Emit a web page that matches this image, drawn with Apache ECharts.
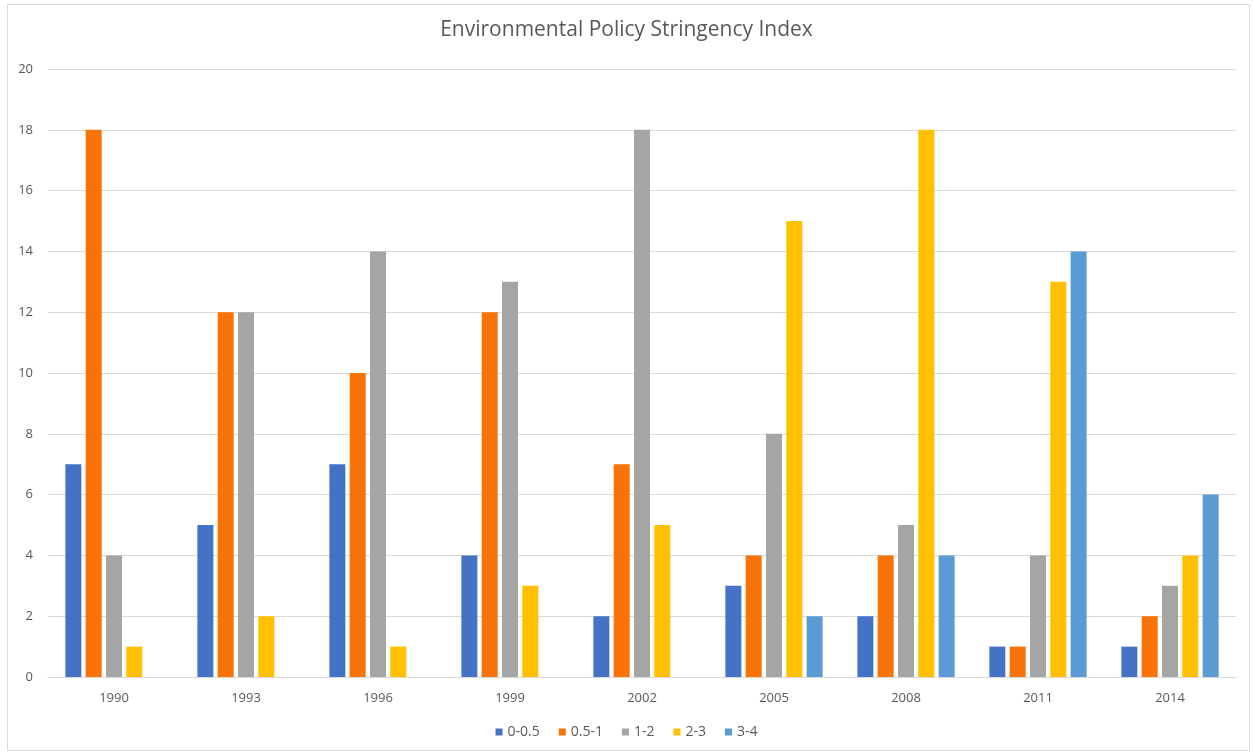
<!DOCTYPE html>
<html>
<head>
<meta charset="utf-8">
<script src="https://cdn.jsdelivr.net/npm/echarts@6/dist/echarts.min.js"></script>
<style>
  html, body { margin: 0; padding: 0; background: #fff; }
  #chart { width: 1253px; height: 754px; }
</style>
</head>
<body>
<div id="chart"></div>
<script>
// Number of countries per stringency band, by year
const years = ['1990', '1993', '1996', '1999', '2002', '2005', '2008', '2011', '2014'];
const band_0_05 = [7, 5, 7, 4, 2, 3, 2, 1, 1];
const band_05_1 = [18, 12, 10, 12, 7, 4, 4, 1, 2];
const band_1_2  = [4, 12, 14, 13, 18, 8, 5, 4, 3];
const band_2_3  = [1, 2, 1, 3, 5, 15, 18, 13, 4];
const band_3_4  = [0, 0, 0, 0, 0, 2, 4, 14, 6];
const yTicks = [0, 2, 4, 6, 8, 10, 12, 14, 16, 18, 20];

const seriesDefs = [
  { name: '0-0.5', data: band_0_05, color: '#4472C4' },
  { name: '0.5-1', data: band_05_1, color: '#FA7306' },
  { name: '1-2',   data: band_1_2,  color: '#A5A5A5' },
  { name: '2-3',   data: band_2_3,  color: '#FFC000' },
  { name: '3-4',   data: band_3_4,  color: '#5B9BD5' }
];

const font = 'Open Sans, Noto Sans, sans-serif';
const chart = echarts.init(document.getElementById('chart'), null, { renderer: 'canvas' });

chart.setOption({
  animation: false,
  backgroundColor: '#fff',
  title: {
    text: 'Environmental Policy Stringency Index',
    left: 'center',
    top: 15,
    textStyle: { fontFamily: font, fontSize: 21, fontWeight: 'normal', color: '#595959' }
  },
  graphic: [{
    type: 'rect',
    shape: { x: 7.5, y: 4.5, width: 1242, height: 746 },
    style: { fill: 'none', stroke: '#D9D9D9', lineWidth: 1 },
    silent: true
  }],
  legend: {
    bottom: 10,
    left: 'center',
    itemWidth: 7,
    itemHeight: 7,
    itemGap: 19,
    icon: 'rect',
    textStyle: { fontFamily: font, fontSize: 14, color: '#595959' },
    data: seriesDefs.map(s => s.name)
  },
  grid: { left: 48, right: 17, top: 69, bottom: 77, containLabel: false },
  xAxis: {
    type: 'category',
    data: years,
    axisLine: { lineStyle: { color: '#D9D9D9', width: 1 } },
    axisTick: { show: false },
    axisLabel: { fontFamily: font, fontSize: 13, color: '#595959', margin: 15 }
  },
  yAxis: {
    type: 'value',
    min: yTicks[0],
    max: yTicks[yTicks.length - 1],
    interval: 2,
    axisLine: { show: false },
    axisTick: { show: false },
    splitLine: { lineStyle: { color: '#D9D9D9', width: 1 } },
    axisLabel: { fontFamily: font, fontSize: 13, color: '#595959', margin: 15 }
  },
  series: seriesDefs.map(s => ({
    name: s.name,
    type: 'bar',
    data: s.data,
    barWidth: 16,
    barGap: '27%',
    itemStyle: { color: s.color }
  }))
});
</script>
</body>
</html>
